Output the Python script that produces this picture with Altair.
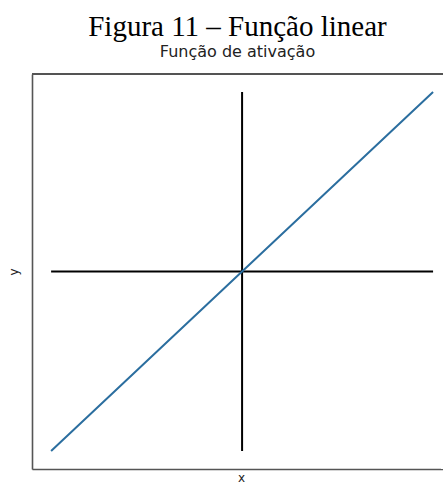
import altair as alt
import pandas as pd

# Linear activation y = x, sampled on [-10, 10]
xs = [-10, -5, 0, 5, 10]
ys = [-10, -5, 0, 5, 10]

# Reference axes through the origin
h_x = [-10, 10]
h_y = [0, 0]
v_x = [0, 0]
v_y = [-10, 10]

X_DOMAIN = [-11, 10.52]
Y_DOMAIN = [-11, 11]
W, H = 411, 395

curve = pd.DataFrame({"x": xs, "y": ys})
hline = pd.DataFrame({"x": h_x, "y": h_y})
vline = pd.DataFrame({"x": v_x, "y": v_y})

xscale = alt.Scale(domain=X_DOMAIN, nice=False, zero=False)
yscale = alt.Scale(domain=Y_DOMAIN, nice=False, zero=False)

xaxis = alt.Axis(title="x", labels=False, ticks=False, grid=False,
                 domainColor="#555555", domainWidth=1.6,
                 titleFont="DejaVu Sans", titleFontSize=12,
                 titleFontWeight="normal", titleColor="#222222",
                 titlePadding=3, titleX=209)
yaxis = alt.Axis(title="y", labels=False, ticks=False, grid=False,
                 domainColor="#555555", domainWidth=1.6,
                 titleFont="DejaVu Sans", titleFontSize=12,
                 titleFontWeight="normal", titleColor="#222222",
                 titlePadding=12)

base_h = alt.Chart(hline).mark_line(color="black", strokeWidth=2).encode(
    x=alt.X("x:Q", scale=xscale, axis=xaxis),
    y=alt.Y("y:Q", scale=yscale, axis=yaxis),
)
base_v = alt.Chart(vline).mark_line(color="black", strokeWidth=2).encode(
    x=alt.X("x:Q", scale=xscale),
    y=alt.Y("y:Q", scale=yscale),
)
line = alt.Chart(curve).mark_line(color="#2b6e9f", strokeWidth=2).encode(
    x=alt.X("x:Q", scale=xscale),
    y=alt.Y("y:Q", scale=yscale),
)
# open right side of the frame: blank out the view edge, then draw the top edge
right_mask = alt.Chart(curve).mark_rule(color="white", strokeWidth=4).encode(
    x=alt.value(W), y=alt.value(0), y2=alt.value(H)
)
top_border = alt.Chart(curve).mark_rule(color="#555555", strokeWidth=1.6).encode(
    x=alt.value(0), x2=alt.value(W), y=alt.value(0)
)

chart = (
    alt.layer(base_h, base_v, line, right_mask, top_border)
    .properties(
        width=W,
        height=H,
        title=alt.Title(
            text="Figura 11 – Função linear",
            subtitle="Função de ativação",
            font="Liberation Serif",
            fontSize=29,
            fontWeight="normal",
            color="black",
            subtitleFont="DejaVu Sans",
            subtitleFontSize=16,
            subtitleColor="#222222",
            subtitlePadding=2,
            anchor="middle",
            offset=12,
        ),
        padding={"left": 32, "top": 74, "right": 0, "bottom": 16},
        autosize=alt.AutoSizeParams(type="none"),
    )
    .configure_view(strokeWidth=0, stroke="transparent")
    .configure(background="white")
)

chart.save("out.html", embed_options={"renderer": "svg", "actions": False})
